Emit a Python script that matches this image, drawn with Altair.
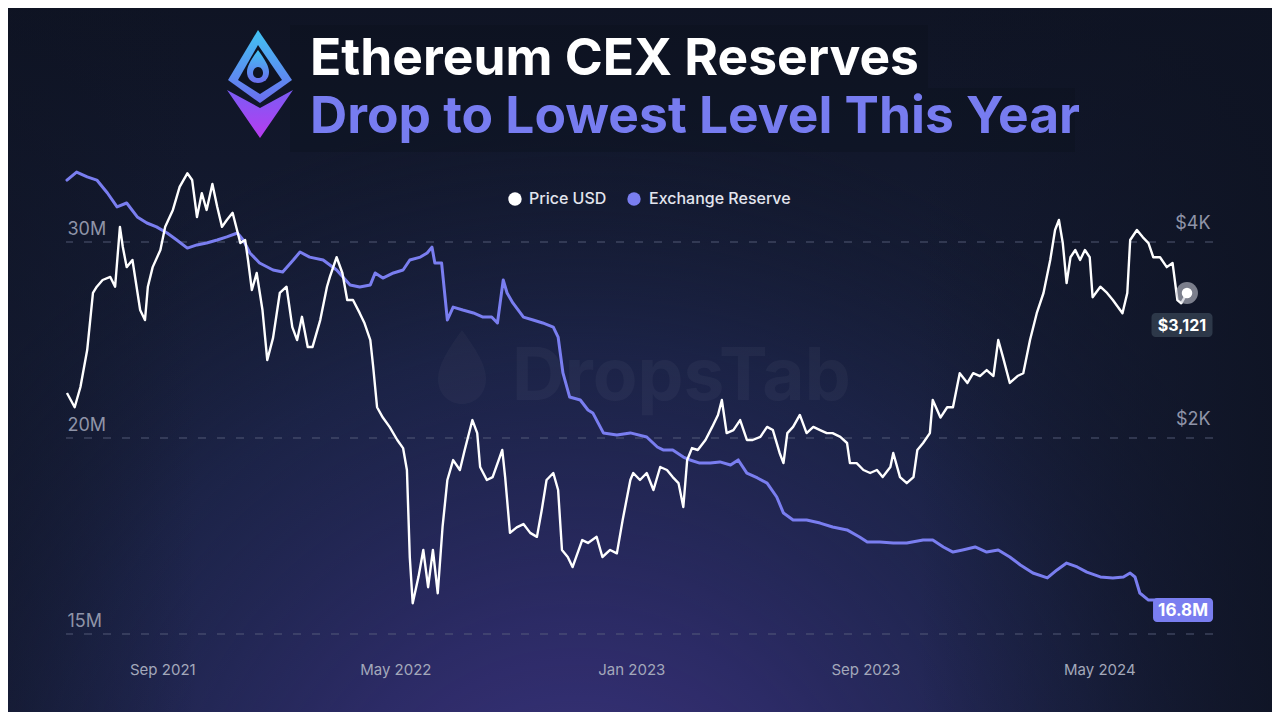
import altair as alt
import pandas as pd

# ---------------- data ----------------
START_DATE = "2021-05-24"

price_day = [
    1, 9, 15, 22, 28, 32, 38, 46, 51, 56,
    59, 63, 69, 77, 82, 85, 90, 98, 103, 111,
    118, 126, 131, 136, 141, 146, 152, 157, 162, 167,
    173, 181, 186, 189, 193, 198, 204, 209, 215, 222,
    229, 235, 240, 245, 251, 256, 264, 271, 274, 281,
    287, 292, 298, 305, 310, 316, 319, 323, 329, 336,
    344, 350, 354, 357, 360, 366, 371, 376, 381, 386,
    391, 396, 402, 409, 414, 422, 427, 430, 437, 443,
    453, 456, 461, 468, 475, 482, 489, 494, 499, 506,
    511, 515, 521, 526, 536, 542, 551, 557, 565, 572,
    578, 586, 589, 596, 603, 610, 617, 624, 630, 636,
    641, 645, 650, 656, 664, 671, 677, 681, 686, 693,
    700, 707, 713, 721, 728, 734, 741, 745, 749, 755,
    762, 769, 776, 783, 790, 796, 804, 811, 814, 821,
    828, 835, 842, 848, 856, 859, 866, 873, 880, 884,
    890, 897, 900, 908, 915, 921, 928, 936, 942, 949,
    956, 963, 968, 973, 980, 988, 994, 1001, 1008, 1015,
    1022, 1027, 1031, 1035, 1039, 1043, 1048, 1053, 1058, 1063,
    1066, 1074, 1081, 1087, 1097, 1102, 1105, 1112, 1118, 1124,
    1129, 1136, 1143, 1149, 1154, 1158, 1164,
]
price_usd = [
    2345, 2230, 2395, 2730, 3340, 3415, 3497, 3535, 3415, 4220,
    3930, 3660, 3753, 3145, 3035, 3415, 3660, 3888, 4220, 4480,
    4860, 5100, 4980, 4370, 4755, 4480, 4910, 4530, 4220, 4324,
    4435, 3985, 4028, 3753, 3375, 3585, 3145, 2635, 2850, 3340,
    3415, 2960, 2828, 3070, 2760, 2760, 3035, 3415, 3535, 3790,
    3585, 3258, 3258, 3110, 3000, 2828, 2570, 2230, 2150, 2080,
    1986, 1930, 1786, 1310, 1115, 1224, 1346, 1180, 1346, 1155,
    1460, 1724, 1850, 1786, 1917, 2131, 2035, 1805, 1724, 1742,
    1917, 1742, 1430, 1458, 1475, 1430, 1410, 1550, 1724, 1767,
    1664, 1346, 1313, 1267, 1394, 1380, 1410, 1313, 1346, 1330,
    1496, 1724, 1767, 1724, 1767, 1664, 1805, 1786, 1742, 1705,
    1567, 1850, 1930, 1917, 1986, 2080, 2170, 2288, 2035, 2057,
    2131, 1986, 1986, 2008, 2080, 2057, 1897, 1830, 2035, 2080,
    2170, 2035, 2080, 2057, 2035, 2035, 2008, 1965, 1830, 1830,
    1786, 1767, 1786, 1742, 1805, 1897, 1742, 1705, 1742, 1917,
    1965, 2035, 2288, 2150, 2230, 2230, 2515, 2430, 2515, 2490,
    2543, 2490, 2828, 2660, 2430, 2490, 2515, 2828, 3110, 3340,
    3753, 4174, 4324, 3985, 3460, 3790, 3888, 3753, 3888, 3790,
    3290, 3415, 3340, 3258, 3110, 3340, 4028, 4174, 4070, 3985,
    3790, 3790, 3660, 3715, 3258, 3220, 3340,
]

reserve_day = [
    1, 11, 22, 32, 43, 53, 63, 74, 84, 94,
    105, 115, 126, 136, 146, 157, 167, 178, 184, 191,
    201, 215, 225, 236, 243, 253, 267, 281, 295, 305,
    316, 321, 329, 340, 350, 357, 368, 375, 380, 383,
    390, 396, 402, 412, 423, 433, 442, 448, 454, 458,
    464, 475, 485, 495, 506, 511, 516, 523, 534, 542,
    547, 558, 572, 586, 603, 614, 620, 630, 641, 648,
    658, 669, 679, 690, 698, 707, 718, 728, 738, 745,
    755, 769, 783, 796, 811, 824, 832, 845, 859, 873,
    890, 900, 911, 921, 931, 944, 956, 968, 980, 991,
    1004, 1019, 1029, 1039, 1050, 1060, 1074, 1087, 1098, 1105,
    1110, 1115, 1124, 1129, 1163,
]
reserve_millions = [
    33.16, 33.57, 33.32, 33.16, 32.50, 31.79, 31.99, 31.28, 30.97, 30.77,
    30.46, 30.10, 29.69, 29.85, 29.95, 30.10, 30.26, 30.46, 30.10, 29.44,
    28.93, 28.57, 28.47, 29.08, 29.49, 29.23, 29.08, 28.57, 27.81, 27.70,
    27.81, 28.42, 28.16, 28.42, 28.57, 29.08, 29.23, 29.44, 29.74, 28.93,
    28.93, 26.02, 26.68, 26.53, 26.38, 26.17, 26.17, 25.87, 28.06, 27.40,
    26.89, 26.17, 26.02, 25.87, 25.66, 25.15, 23.32, 22.09, 21.94, 21.43,
    21.28, 20.26, 20.15, 20.26, 20.05, 19.54, 19.39, 19.39, 19.03, 18.88,
    18.72, 18.72, 18.78, 18.62, 18.88, 18.21, 17.96, 17.70, 16.99, 16.17,
    15.82, 15.82, 15.66, 15.46, 15.31, 14.95, 14.69, 14.69, 14.64, 14.64,
    14.80, 14.80, 14.44, 14.18, 14.29, 14.44, 14.18, 14.29, 13.93, 13.52,
    13.11, 12.86, 13.27, 13.62, 13.42, 13.16, 12.91, 12.86, 12.91, 13.11,
    12.91, 12.09, 11.73, 11.73, 11.73,
]

series_names = ["Price USD", "Exchange Reserve"]
series_colors = ["#ffffff", "#7a7ef0"]
title_lines = ["Ethereum CEX Reserves", "Drop to Lowest Level This Year"]
reserve_ticks = [10, 20, 30]
reserve_tick_labels = ["15M", "20M", "30M"]
price_ticks = [2000, 4000]
price_tick_labels = ["$2K", "$4K"]
month_ticks = [(2021, 9), (2022, 5), (2023, 1), (2023, 9), (2024, 5)]
end_labels = ["$3,121", "16.8M"]
watermark_text = "DropsTab"

# ---------------- frames ----------------
start = pd.Timestamp(START_DATE)
price_df = pd.DataFrame({"date": start + pd.to_timedelta(price_day, unit="D"), "value": price_usd})
reserve_df = pd.DataFrame({"date": start + pd.to_timedelta(reserve_day, unit="D"), "value": reserve_millions})
price_last = price_df.tail(1)
reserve_last = reserve_df.tail(1)
one = pd.DataFrame({"k": [0]})

W, H = 1147, 490
FONT = "Inter"


def label_expr(vals, labels):
    expr = f"'{labels[-1]}'"
    for v, lab in reversed(list(zip(vals[:-1], labels[:-1]))):
        expr = f"datum.value == {v} ? '{lab}' : " + expr
    return expr


x_axis = alt.Axis(
    values=[alt.DateTime(year=y, month=m, date=1) for y, m in month_ticks],
    format="%b %Y", labelFontSize=15, labelColor="#a3a8ba", labelFont=FONT,
    domain=False, ticks=False, grid=False, labelPadding=28, title=None, zindex=1,
    labelFlush=False,
)
x_scale = alt.Scale(domain=[alt.DateTime(year=2021, month=5, date=24),
                            alt.DateTime(year=2024, month=8, date=27)])


def xenc():
    return alt.X("date:T", scale=x_scale, axis=x_axis)


res_scale = alt.Scale(domain=[10, 35], nice=False, zero=False)
res_axis = alt.Axis(
    orient="left", values=reserve_ticks, labelExpr=label_expr(reserve_ticks, reserve_tick_labels),
    labelAlign="left", labelPadding=-1, tickSize=0, ticks=False, domain=False, grid=False,
    labelBaseline="alphabetic", labelOffset=-8, labelFontSize=18, labelColor="#8f94a8",
    labelFont=FONT, title=None, zindex=1, labelOverlap=False, labelFlush=False,
)
price_scale = alt.Scale(type="log", domain=[1000, 5657], nice=False)
price_axis = alt.Axis(
    orient="right", values=price_ticks, labelExpr=label_expr(price_ticks, price_tick_labels),
    labelAlign="right", labelPadding=-3, tickSize=0, ticks=False, domain=False, grid=False,
    labelBaseline="alphabetic", labelOffset=-14, labelFontSize=18, labelColor="#8f94a8",
    labelFont=FONT, title=None, zindex=1, labelOverlap=False, labelFlush=False,
)


def yres(field="value"):
    return alt.Y(f"{field}:Q", scale=res_scale, axis=res_axis)


def yprice():
    return alt.Y("value:Q", scale=price_scale, axis=price_axis)


# ---------------- background ----------------
base_bg = alt.Chart(one).mark_rect(
    fill={"gradient": "linear", "x1": 0, "y1": 0, "x2": 0, "y2": 1,
          "stops": [{"offset": 0, "color": "#0f1424"},
                    {"offset": 0.5, "color": "#161d37"},
                    {"offset": 1, "color": "#1b2142"}]}
).encode(x=alt.value(-58), x2=alt.value(1206), y=alt.value(-136), y2=alt.value(568))

glow_bg = alt.Chart(one).mark_rect(
    fill={"gradient": "radial", "x1": 0.45, "y1": 0.92, "r1": 0, "x2": 0.45, "y2": 0.92, "r2": 0.62,
          "stops": [{"offset": 0, "color": "rgba(64,54,134,1)"},
                    {"offset": 0.35, "color": "rgba(46,44,106,0.88)"},
                    {"offset": 0.7, "color": "rgba(32,40,84,0.5)"},
                    {"offset": 1, "color": "rgba(20,27,50,0)"}]}
).encode(x=alt.value(-58), x2=alt.value(1206), y=alt.value(-136), y2=alt.value(568))

side_bg = alt.Chart(one).mark_rect(
    fill={"gradient": "linear", "x1": 0, "y1": 0, "x2": 1, "y2": 0,
          "stops": [{"offset": 0, "color": "rgba(14,19,34,0.45)"},
                    {"offset": 0.15, "color": "rgba(14,19,34,0)"},
                    {"offset": 0.72, "color": "rgba(14,19,34,0)"},
                    {"offset": 1, "color": "rgba(14,19,34,0.85)"}]}
).encode(x=alt.value(-58), x2=alt.value(1206), y=alt.value(-136), y2=alt.value(568))

title_box1 = alt.Chart(one).mark_rect(color="#0b101c", opacity=0.3).encode(
    x=alt.value(224), x2=alt.value(862), y=alt.value(-119), y2=alt.value(-56))
title_box2 = alt.Chart(one).mark_rect(color="#0b101c", opacity=0.3).encode(
    x=alt.value(224), x2=alt.value(1009), y=alt.value(-56), y2=alt.value(8))

# ---------------- logo ----------------
def logo_part(path, fill):
    return alt.Chart(one).mark_point(
        shape=path, size=4, filled=True, fill=fill, opacity=1, fillOpacity=1, strokeWidth=0
    ).encode(x=alt.value(194), y=alt.value(-61))

blue_grad = {"gradient": "linear", "x1": 0, "y1": 0, "x2": 0, "y2": 1,
             "stops": [{"offset": 0, "color": "#41c3f2"}, {"offset": 1, "color": "#6c6df0"}]}
purple_grad = {"gradient": "linear", "x1": 0, "y1": 0, "x2": 0, "y2": 1,
               "stops": [{"offset": 0, "color": "#7a5cf5"}, {"offset": 1, "color": "#b83cf0"}]}
logo = alt.layer(
    logo_part("M-2,-53 L32,-3 L0,20 L-32,-3 Z", blue_grad),
    logo_part("M-2,-38 L22,-3 L0,11 L-22,-3 Z", "#0e1322"),
    logo_part("M-2,-33 C5,-23 9,-17 9,-11 C9,-4 4,0 -2,0 C-8,0 -13,-4 -13,-11 C-13,-17 -9,-23 -2,-33 Z", blue_grad),
    logo_part("M-2,-16 C1,-16 3,-13 3,-10 C3,-7 1,-5 -2,-5 C-5,-5 -7,-7 -7,-10 C-7,-13 -5,-16 -2,-16 Z", "#0e1322"),
    logo_part("M-33,7 L0,25 L33,7 L0,55 Z", purple_grad),
)

# ---------------- titles, watermark, legend ----------------
title1 = alt.Chart(one).mark_text(
    align="left", baseline="alphabetic", font=FONT, fontWeight="bold", fontSize=51.5, color="#ffffff"
).encode(x=alt.value(244), y=alt.value(-69), text=alt.value(title_lines[0]))
title2 = alt.Chart(one).mark_text(
    align="left", baseline="alphabetic", font=FONT, fontWeight="bold", fontSize=51.5, color="#777cf0"
).encode(x=alt.value(244), y=alt.value(-11), text=alt.value(title_lines[1]))

watermark = alt.Chart(one).mark_text(
    align="left", baseline="alphabetic", font=FONT, fontWeight="bold", fontSize=73,
    color="#ffffff", opacity=0.035
).encode(x=alt.value(446), y=alt.value(256), text=alt.value(watermark_text))
watermark_drop = alt.Chart(one).mark_point(
    shape="M0,-40 C15,-19 24,-5 24,9 C24,24 13,34 0,34 C-13,34 -24,24 -24,9 C-24,-5 -15,-19 0,-40 Z",
    size=4, filled=True, fill="#ffffff", opacity=0.03, strokeWidth=0
).encode(x=alt.value(396), y=alt.value(226))

legend_layers = []
for name, col, dx, tx in zip(series_names, series_colors, [449, 568], [463, 583]):
    legend_layers.append(alt.Chart(one).mark_circle(size=180, color=col, opacity=1).encode(
        x=alt.value(dx), y=alt.value(55)))
    legend_layers.append(alt.Chart(one).mark_text(
        align="left", baseline="middle", font=FONT, fontSize=16, fontWeight=500, color="#e3e5ee"
    ).encode(x=alt.value(tx), y=alt.value(55), text=alt.value(name)))

# ---------------- reserve layer ----------------
grid = alt.Chart(pd.DataFrame({"value": reserve_ticks})).mark_rule(
    color="#5d6480", strokeDash=[8, 11], strokeWidth=1, opacity=0.85
).encode(y=yres())
res_line = alt.Chart(reserve_df).mark_line(
    color=series_colors[1], strokeWidth=3, strokeJoin="round", strokeCap="round"
).encode(x=xenc(), y=yres())
res_box = alt.Chart(reserve_last).mark_rect(
    width=60, height=24, cornerRadius=4, color=series_colors[1], xOffset=-3, yOffset=10
).encode(x=xenc(), y=yres())
res_text = alt.Chart(reserve_last).mark_text(
    font=FONT, fontWeight="bold", fontSize=17, color="#ffffff", baseline="middle", align="center",
    xOffset=-3, yOffset=11
).encode(x=xenc(), y=yres(), text=alt.value(end_labels[1]))
reserve_layer = alt.layer(grid, res_line, res_box, res_text)

# ---------------- price layer ----------------
price_line = alt.Chart(price_df).mark_line(
    color=series_colors[0], strokeWidth=2.4, strokeJoin="round"
).encode(x=xenc(), y=yprice())
halo = alt.Chart(price_last).mark_circle(size=480, color="#c3c5ce", opacity=0.6).encode(x=xenc(), y=yprice())
dot = alt.Chart(price_last).mark_circle(size=110, color="#ffffff", opacity=1).encode(x=xenc(), y=yprice())
price_box = alt.Chart(price_last).mark_rect(
    width=61, height=24, cornerRadius=4, color="#2d3849", xOffset=-5, yOffset=32
).encode(x=xenc(), y=yprice())
price_text = alt.Chart(price_last).mark_text(
    font=FONT, fontWeight="bold", fontSize=16, color="#ffffff", baseline="middle", align="center",
    xOffset=-5, yOffset=33
).encode(x=xenc(), y=yprice(), text=alt.value(end_labels[0]))
price_layer = alt.layer(price_line, halo, dot, price_box, price_text)

chart = alt.layer(
    base_bg, glow_bg, side_bg, title_box1, title_box2, logo, watermark, watermark_drop,
    title1, title2, *legend_layers, reserve_layer, price_layer
).resolve_scale(y="independent").properties(
    width=W, height=H,
    autosize=alt.AutoSizeParams(type="none"),
    padding={"left": 58, "top": 136, "right": 59, "bottom": 78},
    background="#11172a",
).configure_view(stroke=None).configure(font=FONT)

chart.save("out.html", embed_options={"renderer": "svg", "actions": False})
